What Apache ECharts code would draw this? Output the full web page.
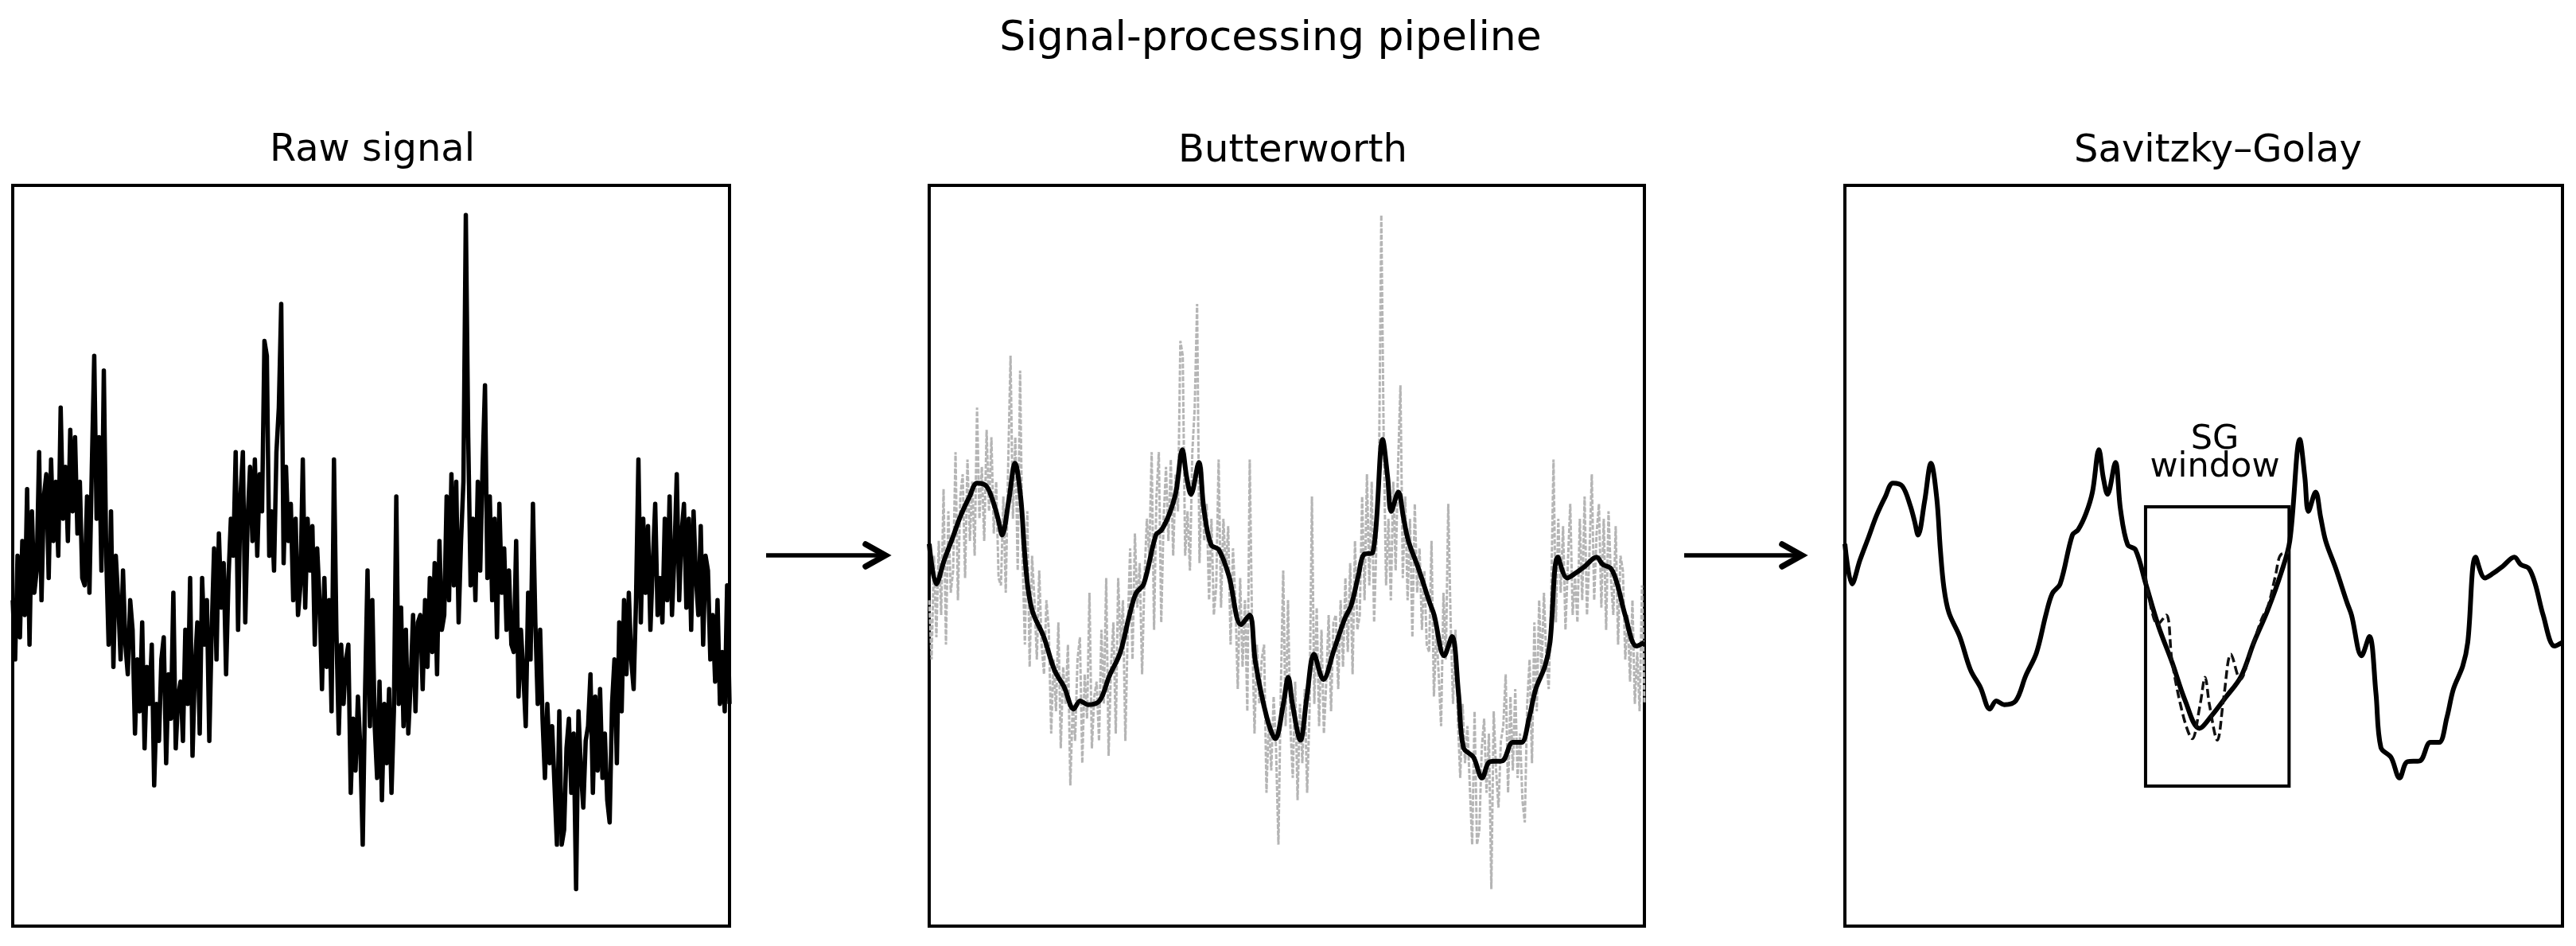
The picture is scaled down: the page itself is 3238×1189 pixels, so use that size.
<!DOCTYPE html>
<html><head><meta charset="utf-8">
<script src="https://cdn.jsdelivr.net/npm/echarts@6/dist/echarts.min.js"></script>
<style>html,body{margin:0;padding:0;background:#fff}#c{width:3238px;height:1189px}</style>
</head><body><div id="c"></div>
<script>
// ---- data (x: time 0..1000, y: amplitude 0..100) ----
const chartTitle = 'Signal-processing pipeline';
const panelTitles = ['Raw signal', 'Butterworth', 'Savitzky–Golay'];
const sgLabel = ['SG', 'window'];

const rawSignal = [
  44, 36, 50, 39, 52, 42, 59, 38, 56, 45,
  48, 64, 44, 58, 61, 47, 63, 52, 60, 50,
  70, 55, 62, 52, 67, 56, 66, 53, 60, 47,
  46, 58, 45, 62, 77, 55, 66, 48, 75, 50,
  38, 56, 35, 50, 44, 36, 48, 38, 34, 44,
  40, 26, 36, 29, 41, 24, 35, 30, 38, 19,
  30, 25, 36, 39, 22, 34, 28, 45, 24, 31,
  33, 25, 40, 30, 47, 23, 35, 41, 26, 47,
  38, 44, 25, 40, 51, 36, 53, 43, 49, 34,
  47, 55, 50, 64, 40, 58, 64, 41, 55, 62,
  52, 63, 50, 61, 56, 79, 77, 50, 56, 48,
  64, 70, 84, 49, 62, 52, 57, 44, 55, 42,
  46, 63, 43, 55, 48, 54, 38, 51, 44, 32,
  47, 35, 44, 29, 63, 40, 26, 38, 30, 36,
  38, 18, 28, 21, 31, 24, 11, 32, 48, 27,
  44, 27, 20, 33, 17, 30, 22, 32, 18, 29,
  58, 30, 43, 27, 40, 26, 33, 42, 29, 41,
  42, 32, 44, 35, 47, 37, 49, 34, 52, 40,
  42, 58, 44, 61, 46, 60, 41, 52, 60, 96,
  66, 46, 55, 44, 60, 48, 62, 73, 47, 58,
  44, 55, 39, 57, 45, 51, 40, 48, 38, 37,
  52, 31, 40, 34, 27, 45, 36, 57, 41, 30,
  40, 28, 20, 30, 22, 27, 19, 11, 29, 11,
  13, 24, 28, 18, 26, 5, 29, 21, 16, 25,
  27, 34, 18, 31, 21, 32, 20, 26, 17, 14,
  30, 36, 22, 41, 29, 44, 34, 45, 36, 32,
  44, 63, 41, 55, 45, 54, 40, 49, 57, 42,
  47, 41, 55, 44, 58, 42, 50, 61, 44, 53,
  57, 43, 55, 40, 56, 47, 42, 54, 38, 50,
  48, 36, 42, 33, 44, 30, 37, 29, 46, 30
];

const butterworthT = [0,10,21,33,44,56,67,80,91,97,102,111,120,128,133,138,145,160,175,189,
  202,211,222,238,252,267,280,289,300,317,325,336,345,354,360,366,377,384,394,405,
  419,436,448,456,472,484,495,502,508,519,528,538,551,566,581,590,600,608,620,634,
  641,646,656,663,670,684,700,706,720,731,740,747,761,773,784,801,816,828,839,848,
  861,868,879,892,903,917,933,942,953,962,973,989,1000];
const butterworthV = [51.6,46.2,49.4,52.5,55.4,57.9,59.8,59.4,56.8,54.7,52.8,57.3,62.5,57.8,50.9,45.7,42.3,39.1,34.6,32.2,
  29.3,30.4,29.9,30.4,33.8,36.9,42.0,44.9,46.2,52.8,53.5,55.7,58.6,64.3,60.6,58.3,62.6,56.3,51.5,50.8,
  47.3,40.7,42.0,35.7,28.2,25.3,29.9,33.6,29.9,25.1,30.9,36.7,33.3,37.3,41.5,43.3,47.3,50.2,50.4,65.7,
  60.6,56.0,58.6,55.2,52.0,48.3,43.6,42.0,36.5,39.1,31.5,24.1,22.8,20.0,22.2,22.3,24.8,24.8,28.2,32.0,
  35.1,38.3,49.8,47.0,47.6,48.6,49.8,48.8,48.3,46.2,42.0,37.8,38.3];

const sgFitT = [419, 437, 456, 474, 494, 511, 530, 552, 570, 589, 608, 620];
const sgFitV = [46.3, 40.5, 35.6, 30.5, 26.7, 28.4, 30.8, 33.7, 38.3, 42.6, 47.7, 52.0];

const sgWindowT = [419, 619];
const sgWindowV = [18.9, 56.6];

// ---- build series data ----
const N = rawSignal.length;
const rawPts = rawSignal.map((v, i) => [i * 1000 / (N - 1), v]);
const bwPts = butterworthT.map((t, i) => [t, butterworthV[i]]);
const sgPts = sgFitT.map((t, i) => [t, sgFitV[i]]);
const sgEnd = sgFitT[sgFitT.length - 1];
const sgCurve = bwPts.filter(p => p[0] < sgFitT[0]).concat(sgPts, bwPts.filter(p => p[0] > sgEnd));
const bwInWindow = bwPts.filter(p => p[0] >= sgFitT[0] && p[0] <= sgEnd);

const FONT = '"DejaVu Sans", "Liberation Sans", sans-serif';
const panels = [
  {left: 16, top: 233, width: 901, height: 931},
  {left: 1168, top: 233, width: 899, height: 931},
  {left: 2319, top: 233, width: 902, height: 931}
];
const grid = panels.map(p => Object.assign({show: true, borderColor: '#000', borderWidth: 4, backgroundColor: 'transparent'}, p));
const xAxis = panels.map((p, i) => ({type: 'value', gridIndex: i, min: 0, max: 1000, show: false}));
const yAxis = panels.map((p, i) => ({type: 'value', gridIndex: i, min: 0, max: 100, show: false}));

const base = {type: 'line', showSymbol: false, symbol: 'none', animation: false, silent: true};
const series = [
  Object.assign({}, base, {xAxisIndex: 0, yAxisIndex: 0, data: rawPts, lineStyle: {color: '#000', width: 5.5, join: 'round'}}),
  Object.assign({}, base, {xAxisIndex: 1, yAxisIndex: 1, data: rawPts, lineStyle: {color: '#b5b5b5', width: 3, type: [6, 2]}}),
  Object.assign({}, base, {xAxisIndex: 1, yAxisIndex: 1, data: bwPts, smooth: 0.35, lineStyle: {color: '#000', width: 6}}),
  Object.assign({}, base, {xAxisIndex: 2, yAxisIndex: 2, data: sgCurve, smooth: 0.35, lineStyle: {color: '#000', width: 6}}),
  Object.assign({}, base, {xAxisIndex: 2, yAxisIndex: 2, data: bwInWindow, smooth: 0.35,
    lineStyle: {color: '#111', width: 3.5, type: [11, 5]},
    markArea: {silent: true, itemStyle: {color: 'rgba(0,0,0,0)', borderColor: '#000', borderWidth: 4},
      data: [[{coord: [sgWindowT[0], sgWindowV[0]]}, {coord: [sgWindowT[1], sgWindowV[1]]}]]}})
];

function txt(text, x, y, size) {
  return {type: 'text', x: x, y: y, silent: true,
    style: {text: text, textAlign: 'center', textVerticalAlign: 'middle', fontSize: size, fontFamily: FONT, fill: '#000'}};
}
function arrow(x0, x1, y) {
  return [
    {type: 'polyline', silent: true, shape: {points: [[x0, y], [x1 - 5, y]]}, style: {stroke: '#000', lineWidth: 5.5, fill: null}},
    {type: 'polyline', silent: true, shape: {points: [[x1 - 25, y - 14], [x1, y], [x1 - 25, y + 14]]},
      style: {stroke: '#000', lineWidth: 7.5, fill: null, lineCap: 'round', lineJoin: 'miter'}}
  ];
}
const graphic = [
  txt(chartTitle, 1597, 49, 52),
  txt(panelTitles[0], 468, 190, 48),
  txt(panelTitles[1], 1625, 191, 48),
  txt(panelTitles[2], 2788, 191, 48),
  txt(sgLabel[0], 2784, 553, 43),
  txt(sgLabel[1], 2784, 588, 43)
].concat(arrow(963, 1113, 698), arrow(2117, 2265, 698));

const chart = echarts.init(document.getElementById('c'), null, {renderer: 'canvas'});
chart.setOption({backgroundColor: '#fff', animation: false, grid, xAxis, yAxis, series, graphic});
</script></body></html>
